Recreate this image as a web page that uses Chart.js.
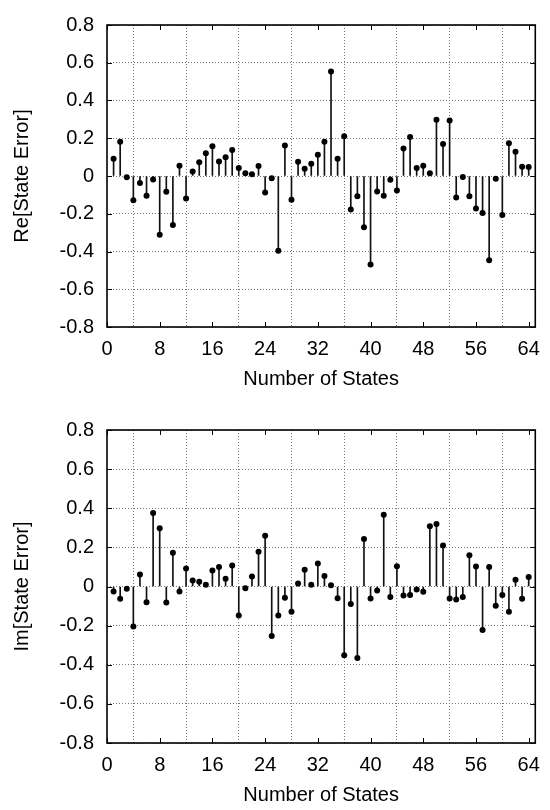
<!DOCTYPE html>
<html>
<head>
<meta charset="utf-8">
<script src="https://cdn.jsdelivr.net/npm/chart.js@4/dist/chart.umd.min.js"></script>
<style>
  body { margin: 0; background: #fff; }
  canvas { position: absolute; left: 0; }
  #graficoRe { top: 0; }
  #graficoIm { top: 405px; }
</style>
</head>
<body>
<canvas id="graficoRe" width="550" height="405"></canvas>
<canvas id="graficoIm" width="550" height="405"></canvas>
<script>
const states = [1, 2, 3, 4, 5, 6, 7, 8, 9, 10, 11, 12, 13, 14, 15, 16,
  17, 18, 19, 20, 21, 22, 23, 24, 25, 26, 27, 28, 29, 30, 31, 32,
  33, 34, 35, 36, 37, 38, 39, 40, 41, 42, 43, 44, 45, 46, 47, 48,
  49, 50, 51, 52, 53, 54, 55, 56, 57, 58, 59, 60, 61, 62, 63, 64]

const reError = [0.092, 0.182, -0.007, -0.129, -0.037, -0.105, -0.019, -0.311,
  -0.083, -0.260, 0.054, -0.119, 0.024, 0.073, 0.121, 0.158,
  0.077, 0.100, 0.138, 0.043, 0.015, 0.009, 0.053, -0.088,
  -0.012, -0.396, 0.162, -0.126, 0.075, 0.039, 0.065, 0.112,
  0.182, 0.553, 0.092, 0.211, -0.177, -0.107, -0.272, -0.469,
  -0.082, -0.104, -0.020, -0.077, 0.146, 0.206, 0.043, 0.054,
  0.014, 0.298, 0.170, 0.294, -0.114, -0.005, -0.107, -0.172,
  -0.196, -0.447, -0.014, -0.207, 0.173, 0.128, 0.049, 0.048]

const imError = [-0.026, -0.063, -0.012, -0.204, 0.061, -0.080, 0.376, 0.298,
  -0.082, 0.172, -0.026, 0.092, 0.031, 0.024, 0.009, 0.082,
  0.100, 0.039, 0.107, -0.148, -0.009, 0.051, 0.177, 0.260,
  -0.253, -0.148, -0.058, -0.129, 0.015, 0.085, 0.009, 0.117,
  0.054, 0.007, -0.060, -0.352, -0.090, -0.366, 0.243, -0.061,
  -0.020, 0.367, -0.054, 0.104, -0.046, -0.044, -0.015, -0.027,
  0.308, 0.320, 0.209, -0.061, -0.066, -0.054, 0.160, 0.102,
  -0.223, 0.100, -0.099, -0.044, -0.129, 0.034, -0.063, 0.048]

const xTitle = "Number of States"
const fonte = { family: "'Liberation Sans', Arial, sans-serif", size: 20 }

// moldura preta + ticks para dentro (estilo gnuplot)
const moldura = {
  id: "moldura",
  afterDatasetsDraw(chart) {
    const { ctx, chartArea: a, scales } = chart
    ctx.save()
    ctx.strokeStyle = "#000"
    ctx.lineWidth = 1
    const tl = 5
    ctx.beginPath()
    scales.x.ticks.forEach(t => {
      const px = Math.round(scales.x.getPixelForValue(t.value)) + 0.5
      ctx.moveTo(px, a.bottom); ctx.lineTo(px, a.bottom - tl)
      ctx.moveTo(px, a.top); ctx.lineTo(px, a.top + tl)
    })
    scales.y.ticks.forEach(t => {
      const py = Math.round(scales.y.getPixelForValue(t.value)) + 0.5
      ctx.moveTo(a.left, py); ctx.lineTo(a.left + tl, py)
      ctx.moveTo(a.right, py); ctx.lineTo(a.right - tl, py)
    })
    ctx.stroke()
    ctx.lineWidth = 1.6
    ctx.strokeRect(a.left, a.top, a.right - a.left, a.bottom - a.top)
    ctx.restore()
  }
}

function stemChart(canvas, valores, yTitle, padTop, xHeight, titlePadBottom) {
  const pts = states.map((s, i) => ({ x: s, y: valores[i] }))
  return new Chart(canvas, {
    type: "bar",
    data: {
      datasets: [
        {
          type: "bar",
          data: pts,
          backgroundColor: "#111",
          barThickness: 1,
          order: 2
        },
        {
          type: "scatter",
          data: pts,
          pointRadius: 3,
          pointBackgroundColor: "#000",
          pointBorderWidth: 0,
          order: 1
        }
      ]
    },
    options: {
      responsive: false,
      animation: false,
      devicePixelRatio: 1,
      layout: { padding: { top: padTop, right: 12, left: 0, bottom: 0 } },
      plugins: { legend: { display: false }, tooltip: { enabled: false } },
      scales: {
        x: {
          type: "linear",
          min: 0,
          max: 65,
          offset: false,
          afterFit: s => { s.height = xHeight },
          ticks: { stepSize: 8, includeBounds: false, color: "#000", font: fonte, padding: 10, maxRotation: 0 },
          grid: { color: "#777", drawTicks: false, lineWidth: 1 },
          border: { display: false, dash: [1, 2] },
          title: { display: true, text: xTitle, color: "#000", font: fonte, padding: { top: 0, bottom: titlePadBottom } }
        },
        y: {
          min: -0.8,
          max: 0.8,
          afterFit: s => { s.width = 107 },
          ticks: {
            stepSize: 0.2,
            color: "#000",
            font: fonte,
            padding: 13,
            callback: v => Math.abs(v) < 1e-9 ? "0" : v.toFixed(1)
          },
          grid: { color: "#777", drawTicks: false, lineWidth: 1 },
          border: { display: false, dash: [1, 2] },
          title: { display: true, text: yTitle, color: "#000", font: fonte, padding: { top: 10, bottom: 0 } }
        }
      }
    },
    plugins: [moldura]
  })
}

stemChart(document.getElementById("graficoRe"), reError, "Re[State Error]", 13, 78, 14)
stemChart(document.getElementById("graficoIm"), imError, "Im[State Error]", 23, 67, 3)
</script>
</body>
</html>
